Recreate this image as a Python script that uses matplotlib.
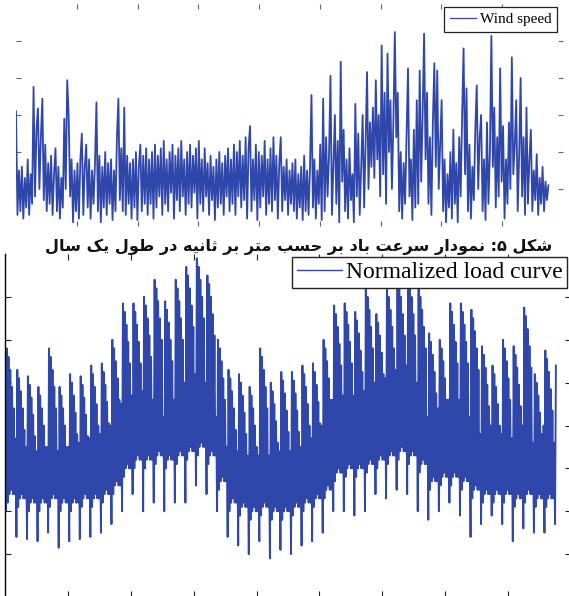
import numpy as np
import matplotlib
matplotlib.use("Agg")
import matplotlib.pyplot as plt

# ---------------- data ----------------
hours_in_year = 8760
x_max = 9000
x_ticks = [1000, 2000, 3000, 4000, 5000, 6000, 7000, 8000]

wind_ylim = [0, 30]
wind_yticks = [5, 10, 15, 20, 25]
# wind speed (m/s), one sample roughly every day, alternating gusts and lulls
wind_speed = [
    15.5, 1.5, 7.5, 2.0, 8.0, 1.0, 6.5, 2.5, 9.0, 1.5,
    7.0, 3.0, 18.8, 4.0, 13.0, 15.9, 5.0, 12.0, 17.2, 3.5,
    11.0, 2.0, 8.5, 3.0, 9.5, 1.5, 7.0, 10.5, 2.0, 8.0,
    1.0, 6.5, 2.5, 14.5, 5.0, 19.7, 15.0, 4.0, 9.0, 0.5,
    7.5, 2.0, 8.5, 1.0, 9.0, 12.5, 1.5, 8.0, 11.0, 2.5,
    9.0, 1.0, 7.5, 3.0, 8.5, 16.7, 2.0, 9.5, 0.5, 8.0,
    2.5, 10.0, 1.5, 8.5, 3.0, 9.0, 0.8, 7.5, 2.0, 12.0,
    17.2, 3.5, 10.5, 2.0, 16.0, 1.5, 9.5, 3.0, 8.5, 1.0,
    9.0, 2.5, 10.0, 0.8, 8.0, 11.0, 2.0, 9.5, 3.0, 10.5,
    1.5, 9.0, 3.0, 10.0, 1.0, 11.0, 2.5, 9.5, 4.0, 10.5,
    1.5, 11.5, 3.0, 9.0, 2.0, 10.0, 4.5, 11.0, 1.0, 9.5,
    3.5, 10.5, 2.0, 11.5, 4.0, 9.0, 1.5, 10.0, 3.0, 11.0,
    2.5, 9.5, 4.5, 10.5, 1.0, 11.5, 3.0, 9.0, 2.0, 10.5,
    4.0, 8.5, 1.5, 9.5, 3.5, 8.0, 0.8, 9.0, 2.5, 10.0,
    3.0, 8.5, 1.5, 9.5, 4.0, 10.5, 2.0, 9.0, 3.0, 11.0,
    1.5, 10.0, 4.0, 11.5, 2.5, 9.5, 3.5, 12.0, 1.0, 10.5,
    13.5, 2.0, 9.0, 3.5, 11.0, 0.8, 10.0, 2.5, 9.5, 4.0,
    11.5, 1.5, 9.0, 3.0, 10.5, 2.0, 12.0, 3.5, 9.5, 1.0,
    8.5, 12.0, 2.0, 8.0, 3.5, 9.0, 1.5, 7.5, 3.0, 8.5,
    2.0, 9.0, 1.0, 7.0, 2.5, 8.0, 0.8, 9.5, 2.0, 7.5,
    1.5, 8.0, 17.7, 2.5, 9.0, 1.0, 7.5, 3.0, 11.0, 0.8,
    17.2, 2.0, 12.0, 4.0, 9.5, 20.3, 1.5, 8.0, 15.0, 3.0,
    11.5, 0.5, 22.2, 6.0, 13.0, 2.0, 9.0, 1.0, 10.5, 3.5,
    7.0, 0.5, 16.5, 4.0, 12.5, 1.5, 8.0, 15.0, 2.5, 11.0,
    20.8, 5.0, 14.0, 8.0, 16.0, 6.5, 19.7, 9.0, 15.0, 4.0,
    24.4, 7.0, 18.0, 3.0, 23.3, 10.0, 17.0, 5.0, 14.0, 26.2,
    12.0, 18.0, 2.0, 10.0, 1.0, 8.5, 3.0, 12.5, 21.3, 4.0,
    9.0, 0.8, 13.0, 2.5, 17.0, 3.0, 21.0, 6.0, 15.0, 26.0,
    9.0, 18.0, 3.0, 12.0, 1.5, 14.0, 22.0, 8.0, 21.0, 5.0,
    11.0, 17.0, 2.0, 9.0, 0.5, 7.0, 2.5, 10.0, 1.0, 13.0,
    3.0, 8.5, 0.5, 12.0, 4.0, 15.0, 24.0, 7.0, 18.6, 2.0,
    11.0, 1.0, 8.0, 3.5, 13.0, 19.0, 5.0, 12.0, 15.0, 2.0,
    9.0, 0.8, 14.0, 3.0, 10.0, 25.7, 8.0, 16.0, 2.5, 12.0,
    4.0, 21.3, 6.0, 13.5, 1.0, 9.0, 3.0, 14.0, 5.0, 22.8,
    7.0, 11.0, 17.0, 2.0, 9.5, 20.0, 4.0, 12.0, 1.5, 16.0,
    3.0, 9.0, 13.0, 2.0, 7.5, 3.5, 9.7, 1.5, 6.5, 3.0,
    8.0, 2.0, 6.0, 3.5, 5.5,
]

load_ylim = [0.2, 1.0]
load_yticks = [0.3, 0.4, 0.5, 0.6, 0.7, 0.8, 0.9]
# normalized load, 12 samples per week: weekend high, weekend low, then
# weekday peaks (declining through the week) alternating with night lows
normalized_load = [
    .60, .40, .78, .42, .76, .44, .73, .45, .69, .44, .64, .44,
    .57, .34, .73, .41, .71, .43, .68, .44, .64, .43, .59, .43,
    .55, .335, .715, .40, .695, .42, .665, .43, .625, .42, .575, .42,
    .54, .33, .69, .40, .67, .42, .64, .43, .60, .42, .55, .42,
    .55, .35, .78, .41, .76, .43, .73, .44, .69, .43, .64, .43,
    .54, .315, .69, .40, .67, .42, .64, .43, .60, .42, .55, .42,
    .55, .33, .72, .40, .70, .42, .67, .43, .63, .42, .58, .42,
    .56, .335, .715, .41, .695, .43, .665, .44, .625, .43, .575, .43,
    .57, .34, .74, .41, .72, .43, .69, .44, .65, .43, .60, .43,
    .58, .35, .745, .42, .725, .44, .695, .45, .655, .44, .605, .44,
    .60, .37, .80, .44, .78, .46, .75, .47, .71, .46, .66, .46,
    .65, .40, .885, .48, .865, .50, .835, .51, .795, .50, .745, .50,
    .67, .44, .885, .50, .865, .52, .835, .53, .795, .52, .745, .52,
    .68, .40, .90, .50, .88, .52, .85, .53, .81, .52, .76, .52,
    .66, .42, .94, .51, .92, .53, .89, .54, .85, .53, .80, .53,
    .62, .40, .89, .50, .87, .52, .84, .53, .80, .52, .75, .52,
    .66, .42, .94, .51, .92, .53, .89, .54, .85, .53, .80, .53,
    .70, .42, .97, .52, .95, .54, .92, .55, .88, .54, .83, .54,
    .72, .46, .99, .53, .97, .55, .94, .56, .90, .55, .85, .55,
    .70, .44, .95, .51, .93, .53, .90, .54, .86, .53, .81, .53,
    .62, .40, .80, .45, .78, .47, .75, .48, .71, .47, .66, .47,
    .55, .34, .73, .40, .71, .42, .68, .43, .64, .42, .59, .42,
    .54, .32, .72, .39, .70, .41, .67, .42, .63, .41, .58, .41,
    .53, .30, .69, .38, .67, .40, .64, .41, .60, .40, .55, .40,
    .53, .33, .78, .39, .76, .41, .73, .42, .69, .41, .64, .41,
    .53, .29, .70, .38, .68, .40, .65, .41, .61, .40, .56, .40,
    .54, .31, .725, .38, .705, .40, .675, .41, .635, .40, .585, .40,
    .54, .30, .725, .39, .705, .41, .675, .42, .635, .41, .585, .41,
    .55, .32, .74, .40, .72, .42, .69, .43, .65, .42, .60, .42,
    .57, .33, .745, .41, .725, .43, .695, .44, .655, .43, .605, .43,
    .60, .35, .80, .43, .78, .45, .75, .46, .71, .45, .66, .45,
    .66, .40, .88, .47, .86, .49, .83, .50, .79, .49, .74, .49,
    .67, .40, .885, .48, .865, .50, .835, .51, .795, .50, .745, .50,
    .67, .39, .865, .48, .845, .50, .815, .51, .775, .50, .725, .50,
    .68, .40, .92, .49, .90, .51, .87, .52, .83, .51, .78, .51,
    .70, .44, .86, .50, .84, .52, .81, .53, .77, .52, .72, .52,
    .71, .43, .92, .51, .90, .53, .87, .54, .83, .53, .78, .53,
    .73, .45, .95, .52, .93, .54, .90, .55, .86, .54, .81, .54,
    .74, .44, .95, .51, .93, .53, .90, .54, .86, .53, .81, .53,
    .70, .40, .92, .49, .90, .51, .87, .52, .83, .51, .78, .51,
    .62, .38, .815, .45, .795, .47, .765, .48, .725, .47, .675, .47,
    .64, .40, .80, .46, .78, .48, .75, .49, .71, .48, .66, .48,
    .66, .42, .885, .46, .865, .48, .835, .49, .795, .48, .745, .48,
    .66, .39, .885, .45, .865, .47, .835, .48, .795, .47, .745, .47,
    .62, .34, .87, .43, .85, .45, .82, .46, .78, .45, .73, .45,
    .58, .37, .785, .42, .765, .44, .735, .45, .695, .44, .645, .44,
    .60, .39, .74, .42, .72, .44, .69, .45, .65, .44, .60, .44,
    .58, .37, .80, .42, .78, .44, .75, .45, .71, .44, .66, .44,
    .57, .33, .785, .41, .765, .43, .735, .44, .695, .43, .645, .43,
    .60, .36, .875, .42, .855, .44, .825, .45, .785, .44, .735, .44,
    .56, .35, .72, .41, .70, .43, .67, .44, .63, .43, .58, .43,
    .60, .35, .775, .41, .755, .43, .725, .44, .685, .43, .635, .43,
    .56, .37, .74,
]

wind_label = "Wind speed"
load_label = "Normalized load curve"
caption = "شکل ۵: نمودار سرعت باد بر حسب متر بر ثانیه در طول یک سال"

# ---------------- Persian shaping helper (text only) ----------------
FORMS = {  # isolated, final, initial, medial
    "ش": "\uFEB5\uFEB6\uFEB7\uFEB8", "ک": "\uFB8E\uFB8F\uFB90\uFB91",
    "ل": "\uFEDD\uFEDE\uFEDF\uFEE0", "ن": "\uFEE5\uFEE6\uFEE7\uFEE8",
    "م": "\uFEE1\uFEE2\uFEE3\uFEE4", "س": "\uFEB1\uFEB2\uFEB3\uFEB4",
    "ع": "\uFEC9\uFECA\uFECB\uFECC", "ت": "\uFE95\uFE96\uFE97\uFE98",
    "ب": "\uFE8F\uFE90\uFE91\uFE92", "ح": "\uFEA1\uFEA2\uFEA3\uFEA4",
    "ث": "\uFE99\uFE9A\uFE9B\uFE9C", "ی": "\uFBFC\uFBFD\uFBFE\uFBFF",
    "ه": "\uFEE9\uFEEA\uFEEB\uFEEC", "ط": "\uFEC1\uFEC2\uFEC3\uFEC4",
    "و": "\uFEED\uFEEE", "د": "\uFEA9\uFEAA", "ا": "\uFE8D\uFE8E",
    "ر": "\uFEAD\uFEAE",
}


def shape_rtl(s):
    out = []
    for i, c in enumerate(s):
        if c not in FORMS:
            out.append(c)
            continue
        f = FORMS[c]
        prev = s[i - 1] if i > 0 else ""
        nxt = s[i + 1] if i + 1 < len(s) else ""
        jp = prev in FORMS and len(FORMS[prev]) == 4
        jn = len(f) == 4 and nxt in FORMS
        if jp and jn:
            out.append(f[3])
        elif jp:
            out.append(f[1])
        elif jn:
            out.append(f[2])
        else:
            out.append(f[0])
    return "".join(out)[::-1]


# ---------------- figure ----------------
W, H = 569, 596
fig = plt.figure(figsize=(W / 100, H / 100), dpi=100)
fig.patch.set_facecolor("white")
line_color = "#2f46ab"

# top panel: wind speed
ax1 = fig.add_axes([16 / W, 1 - 226 / H, 547 / W, 222 / H])
xw = np.linspace(0, hours_in_year, len(wind_speed))
ax1.plot(xw, wind_speed, color=line_color, lw=1.3, label=wind_label)
ax1.set_xlim(0, x_max)
ax1.set_ylim(*wind_ylim)
ax1.set_xticks(x_ticks)
ax1.set_yticks(wind_yticks)
ax1.tick_params(direction="in", length=3.5, width=0.8, color="#666666",
                top=True, right=True, labelbottom=False, labelleft=False)
for sp in ax1.spines.values():
    sp.set_visible(False)
leg1 = ax1.legend(loc="upper right", bbox_to_anchor=(557 / W, 1 - 7 / H),
                  bbox_transform=fig.transFigure, borderaxespad=0,
                  prop={"family": "Liberation Serif", "size": 11},
                  frameon=True, fancybox=False, framealpha=1, edgecolor="#222222",
                  handlelength=1.7, handletextpad=0.25, borderpad=0.38)
leg1.get_frame().set_linewidth(0.9)
leg1.get_lines()[0].set_linewidth(0.9)

# caption
fig.text(299 / W, 1 - 247 / H, shape_rtl(caption), ha="center", va="center",
         fontsize=11.6, fontweight="bold", family=["DejaVu Sans"], color="#111111")

# bottom panel: normalized load
ax2 = fig.add_axes([5 / W, 1 - 597 / H, 566 / W, 343 / H])
xl = np.linspace(0, hours_in_year, len(normalized_load))
ax2.plot(xl, normalized_load, color=line_color, lw=1.35, label=load_label)
ax2.set_xlim(0, x_max)
ax2.set_ylim(*load_ylim)
ax2.set_xticks(x_ticks)
ax2.set_yticks(load_yticks)
ax2.tick_params(direction="in", length=4.5, width=0.8, color="#222222",
                top=True, right=True, labelbottom=False, labelleft=False)
ax2.spines["top"].set_visible(False)
ax2.spines["left"].set_linewidth(1.0)
leg2 = ax2.legend(loc="upper right", bbox_to_anchor=(567 / W, 1 - 257 / H),
                  bbox_transform=fig.transFigure, borderaxespad=0,
                  prop={"family": "Liberation Serif", "size": 17},
                  frameon=True, fancybox=False, framealpha=1, edgecolor="#222222",
                  handlelength=1.9, handletextpad=0.15, borderpad=0.2)
leg2.get_frame().set_linewidth(1.0)
leg2.get_lines()[0].set_linewidth(1.0)

fig.savefig("out.png", dpi=100, facecolor="white")
